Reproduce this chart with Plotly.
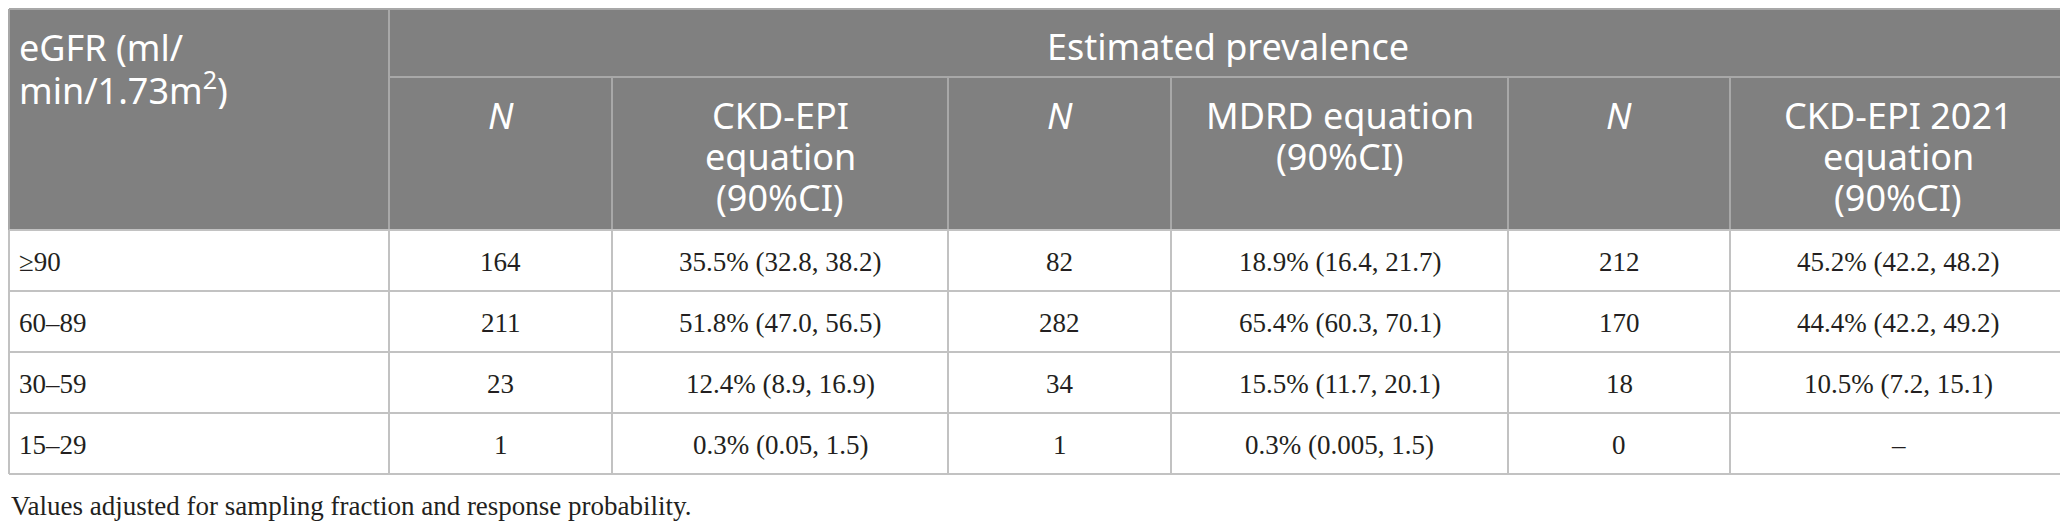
import plotly.graph_objects as go

# table content
egfr_bands = ["≥90", "60–89", "30–59", "15–29"]
n_ckd_epi = [164, 211, 23, 1]
ckd_epi = ["35.5% (32.8, 38.2)", "51.8% (47.0, 56.5)", "12.4% (8.9, 16.9)", "0.3% (0.05, 1.5)"]
n_mdrd = [82, 282, 34, 1]
mdrd = ["18.9% (16.4, 21.7)", "65.4% (60.3, 70.1)", "15.5% (11.7, 20.1)", "0.3% (0.005, 1.5)"]
n_ckd_2021 = [212, 170, 18, 0]
ckd_2021 = ["45.2% (42.2, 48.2)", "44.4% (42.2, 49.2)", "10.5% (7.2, 15.1)", "–"]

first_header = ["eGFR (ml/", "min/1.73m<sup>2</sup>)"]
span_header = "Estimated prevalence"
sub_headers = [["<i>N</i>"], ["CKD-EPI", "equation", "(90%CI)"],
               ["<i>N</i>"], ["MDRD equation", "(90%CI)"],
               ["<i>N</i>"], ["CKD-EPI 2021", "equation", "(90%CI)"]]
footnote = "Values adjusted for sampling fraction and response probability."

# layout (pixels, page coordinates)
W, H = 2068, 531
OFF = 8  # default body margin of the html page
col_edges = [9, 389, 612, 948, 1171, 1508, 1730, 2066]
top, mid, head_bot = 9, 77, 230
row_h = 61
line_gap = 41
HEAD_BG = "#808080"
HEAD_LINE = "#a8a8a8"
BODY_LINE = "#c2c2c2"
TEXT = "#231f20"
sans = "Noto Sans"
serif = "Liberation Serif"
HEAD_SIZE = 36
BODY_SIZE = 27

body_cols = [egfr_bands, n_ckd_epi, ckd_epi, n_mdrd, mdrd, n_ckd_2021, ckd_2021]
n_rows = len(egfr_bands)
row_edges = [head_bot + i * row_h for i in range(n_rows + 1)]

shapes = []
annotations = []

# header background
shapes.append(dict(type="rect", x0=col_edges[0], x1=col_edges[-1], y0=top, y1=head_bot,
                   fillcolor=HEAD_BG, line_width=0, layer="below"))

def hline(x0, x1, y, color):
    shapes.append(dict(type="line", x0=x0, x1=x1, y0=y, y1=y, line=dict(color=color, width=2)))

def vline(x, y0, y1, color):
    shapes.append(dict(type="line", x0=x, x1=x, y0=y0, y1=y1, line=dict(color=color, width=2)))

# header grid
hline(col_edges[0], col_edges[-1], top, HEAD_LINE)
hline(col_edges[1], col_edges[-1], mid, HEAD_LINE)
vline(col_edges[1], top, head_bot, HEAD_LINE)
for x in col_edges[2:-1]:
    vline(x, mid, head_bot, HEAD_LINE)
vline(col_edges[0], top, head_bot, HEAD_LINE)
vline(col_edges[-1], top, head_bot, HEAD_LINE)

# body grid
for y in row_edges:
    hline(col_edges[0], col_edges[-1], y, BODY_LINE)
for x in col_edges:
    vline(x, row_edges[0], row_edges[-1], BODY_LINE)

def text(x, y, s, font, size, color, xanchor="center", height=None):
    ann = dict(x=x, y=y, text=s, showarrow=False, xanchor=xanchor, yanchor="middle",
               font=dict(family=font, size=size, color=color))
    if height:
        ann["height"] = height
    annotations.append(ann)

# header text, one annotation per line so the line spacing can follow the reference
for i, line in enumerate(first_header):
    text(17, 47 + i * line_gap, line, sans, HEAD_SIZE, "white", xanchor="left", height=line_gap)
text((col_edges[1] + col_edges[-1]) / 2, 46, span_header, sans, HEAD_SIZE, "white", height=line_gap)
for c, lines in enumerate(sub_headers):
    cx = (col_edges[c + 1] + col_edges[c + 2]) / 2
    for i, line in enumerate(lines):
        text(cx, 115 + i * line_gap, line, sans, HEAD_SIZE, "white", height=line_gap)

# body text
for c, col in enumerate(body_cols):
    for r, val in enumerate(col):
        cy = (row_edges[r] + row_edges[r + 1]) / 2 + 1
        if c == 0:
            text(17, cy, str(val), serif, BODY_SIZE, TEXT, xanchor="left")
        else:
            text((col_edges[c] + col_edges[c + 1]) / 2, cy, str(val), serif, BODY_SIZE, TEXT)

text(OFF + 1, 506, footnote, serif, BODY_SIZE, TEXT, xanchor="left")

fig = go.Figure()
fig.update_layout(width=W - OFF, height=H - OFF, margin=dict(l=0, r=0, t=0, b=0),
                  paper_bgcolor="white", plot_bgcolor="white",
                  xaxis=dict(range=[OFF, W], visible=False, fixedrange=True),
                  yaxis=dict(range=[H, OFF], visible=False, fixedrange=True),
                  shapes=shapes, annotations=annotations, showlegend=False)
fig.write_html("out.html")
